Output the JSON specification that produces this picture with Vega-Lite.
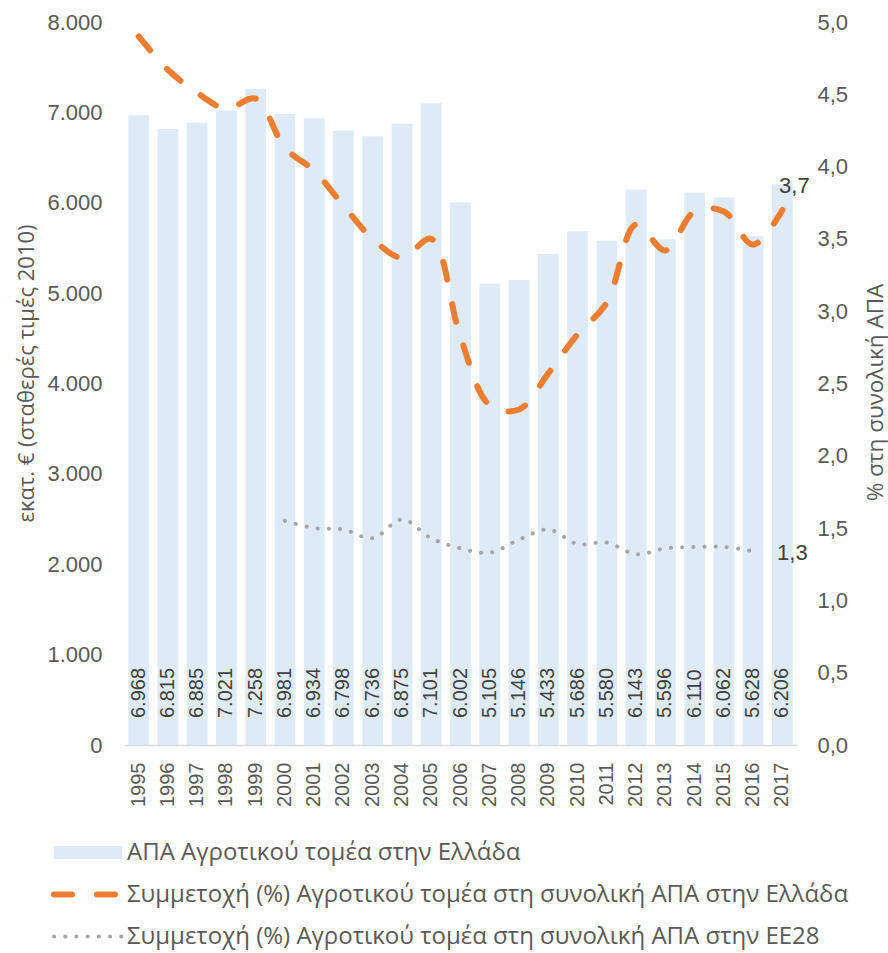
{
  "$schema": "https://vega.github.io/schema/vega-lite/v6.json",
  "width": 673,
  "height": 723,
  "autosize": {"type": "none"},
  "padding": {"left": 124, "top": 22, "right": 91, "bottom": 208},
  "background": "white",
  "config": {
    "locale": {"number": {"decimal": ",", "thousands": ".", "grouping": [3], "currency": ["", " €"]}},
    "view": {"stroke": null},
    "font": "Liberation Sans"
  },
  "data": {
    "values": [
      {"year": "1995", "apa": 6968, "gr": 4.90, "eu": null},
      {"year": "1996", "apa": 6815, "gr": 4.67, "eu": null},
      {"year": "1997", "apa": 6885, "gr": 4.51, "eu": null},
      {"year": "1998", "apa": 7021, "gr": 4.40, "eu": null},
      {"year": "1999", "apa": 7258, "gr": 4.47, "eu": null},
      {"year": "2000", "apa": 6981, "gr": 4.13, "eu": 1.55},
      {"year": "2001", "apa": 6934, "gr": 3.97, "eu": 1.50},
      {"year": "2002", "apa": 6798, "gr": 3.73, "eu": 1.49},
      {"year": "2003", "apa": 6736, "gr": 3.50, "eu": 1.43},
      {"year": "2004", "apa": 6875, "gr": 3.37, "eu": 1.56},
      {"year": "2005", "apa": 7101, "gr": 3.50, "eu": 1.43},
      {"year": "2006", "apa": 6002, "gr": 2.82, "eu": 1.36},
      {"year": "2007", "apa": 5105, "gr": 2.35, "eu": 1.33},
      {"year": "2008", "apa": 5146, "gr": 2.32, "eu": 1.42},
      {"year": "2009", "apa": 5433, "gr": 2.57, "eu": 1.49},
      {"year": "2010", "apa": 5686, "gr": 2.84, "eu": 1.39},
      {"year": "2011", "apa": 5580, "gr": 3.06, "eu": 1.40},
      {"year": "2012", "apa": 6143, "gr": 3.60, "eu": 1.32},
      {"year": "2013", "apa": 5596, "gr": 3.42, "eu": 1.36},
      {"year": "2014", "apa": 6110, "gr": 3.69, "eu": 1.37},
      {"year": "2015", "apa": 6062, "gr": 3.69, "eu": 1.37},
      {"year": "2016", "apa": 5628, "gr": 3.46, "eu": 1.34},
      {"year": "2017", "apa": 6206, "gr": 3.70, "eu": null}
    ]
  },
  "encoding": {
    "x": {
      "field": "year",
      "type": "ordinal",
      "scale": {"paddingInner": 0.29, "paddingOuter": 0.145},
      "axis": {
        "title": null,
        "labelAngle": 270,
        "labelFont": "Liberation Sans",
        "labelFontSize": 20,
        "labelColor": "#595959",
        "labelPadding": 17,
        "ticks": false,
        "tickSize": 0,
        "domainColor": "#d9d9d9",
        "domainWidth": 1.3
      }
    }
  },
  "layer": [
    {
      "layer": [
        {
          "mark": {"type": "bar", "color": "#DEEBF7"},
          "encoding": {
            "y": {
              "field": "apa",
              "type": "quantitative",
              "scale": {"domain": [0, 8000], "nice": false},
              "axis": {
                "orient": "left",
                "values": [0, 1000, 2000, 3000, 4000, 5000, 6000, 7000, 8000],
                "format": ",.0f",
                "grid": false,
                "ticks": false,
                "tickSize": 0,
                "domain": false,
                "labelFont": "Liberation Sans",
                "labelFontSize": 22,
                "labelColor": "#595959",
                "labelPadding": 22,
                "title": "εκατ. € (σταθερές τιμές 2010)",
                "titleFont": "Open Sans",
                "titleFontSize": 22,
                "titleFontWeight": "normal",
                "titleColor": "#595959",
                "titleAngle": 270,
                "titleAlign": "center",
                "titleBaseline": "middle",
                "titleX": -98,
                "titleY": 351
              }
            }
          }
        },
        {
          "mark": {
            "type": "text",
            "angle": 270,
            "align": "left",
            "baseline": "middle",
            "dx": 27,
            "font": "Liberation Sans",
            "fontSize": 20,
            "color": "#404040"
          },
          "encoding": {
            "y": {"datum": 0, "type": "quantitative"},
            "text": {"field": "apa", "type": "quantitative", "format": ",.0f"}
          }
        }
      ]
    },
    {
      "layer": [
        {
          "mark": {"type": "line", "interpolate": "catmull-rom", "strokeWidth": 6, "strokeCap": "round", "strokeDash": [18, 25]},
          "encoding": {
            "y": {
              "field": "gr",
              "type": "quantitative",
              "scale": {"domain": [0, 5], "nice": false},
              "axis": {
                "orient": "right",
                "values": [0, 0.5, 1, 1.5, 2, 2.5, 3, 3.5, 4, 4.5, 5],
                "format": ".1f",
                "grid": false,
                "ticks": false,
                "tickSize": 0,
                "domain": false,
                "labelFont": "Liberation Sans",
                "labelFontSize": 22,
                "labelColor": "#595959",
                "labelPadding": 20,
                "title": "% στη συνολική ΑΠΑ",
                "titleFont": "Open Sans",
                "titleFontSize": 22.5,
                "titleFontWeight": "normal",
                "titleColor": "#595959",
                "titleAngle": 270,
                "titleAlign": "center",
                "titleBaseline": "middle",
                "titleX": 78,
                "titleY": 370
              }
            },
            "color": {
              "datum": "Συμμετοχή (%) Αγροτικού τομέα στη συνολική ΑΠΑ στην Ελλάδα",
              "type": "nominal",
              "scale": {
                "domain": [
                  "ΑΠΑ Αγροτικού τομέα στην Ελλάδα",
                  "Συμμετοχή (%) Αγροτικού τομέα στη συνολική ΑΠΑ στην Ελλάδα",
                  "Συμμετοχή (%) Αγροτικού τομέα στη συνολική ΑΠΑ στην ΕΕ28"
                ],
                "range": ["#DEEBF7", "#ED7D31", "#A5A5A5"]
              },
              "legend": {
                "orient": "none",
                "legendX": -74,
                "legendY": 815.5,
                "direction": "vertical",
                "columns": 1,
                "title": null,
                "padding": 0,
                "symbolType": "M-17,0H17",
                "symbolSize": 16,
                "symbolStrokeWidth": 6,
                "symbolOffset": 26,
                "clipHeight": 30,
                "labelFont": "Open Sans",
                "labelFontSize": 24,
                "labelColor": "#595959",
                "labelLimit": 0,
                "labelOffset": 27,
                "rowPadding": 12,
                "encode": {
                  "symbols": {
                    "update": {
                      "strokeWidth": {"signal": "datum.index === 0 ? 13 : (datum.index === 1 ? 6 : 4)"},
                      "strokeCap": {"signal": "datum.index === 0 ? 'butt' : 'round'"},
                      "strokeDash": {"signal": "datum.index === 0 ? [1, 0] : (datum.index === 1 ? [18, 25] : [0.1, 11.1])"}
                    }
                  }
                }
              }
            }
          }
        },
        {
          "transform": [{"filter": "isValid(datum.eu)"}],
          "mark": {"type": "line", "interpolate": "catmull-rom", "strokeWidth": 4, "strokeCap": "round", "strokeDash": [0.1, 11.1]},
          "encoding": {
            "y": {"field": "eu", "type": "quantitative"},
            "color": {"datum": "Συμμετοχή (%) Αγροτικού τομέα στη συνολική ΑΠΑ στην ΕΕ28", "type": "nominal"}
          }
        },
        {
          "transform": [{"filter": "datum.year === '2017'"}],
          "mark": {"type": "text", "align": "center", "baseline": "middle", "dx": 12, "dy": -24, "font": "Liberation Sans", "fontSize": 22, "color": "#404040"},
          "encoding": {
            "y": {"field": "gr", "type": "quantitative"},
            "text": {"field": "gr", "type": "quantitative", "format": ".1f"}
          }
        },
        {
          "transform": [{"filter": "datum.year === '2016'"}],
          "mark": {"type": "text", "align": "left", "baseline": "middle", "dx": 24, "dy": 2, "font": "Liberation Sans", "fontSize": 22, "color": "#404040"},
          "encoding": {
            "y": {"field": "eu", "type": "quantitative"},
            "text": {"field": "eu", "type": "quantitative", "format": ".1f"}
          }
        }
      ]
    }
  ],
  "resolve": {"scale": {"y": "independent"}}
}
